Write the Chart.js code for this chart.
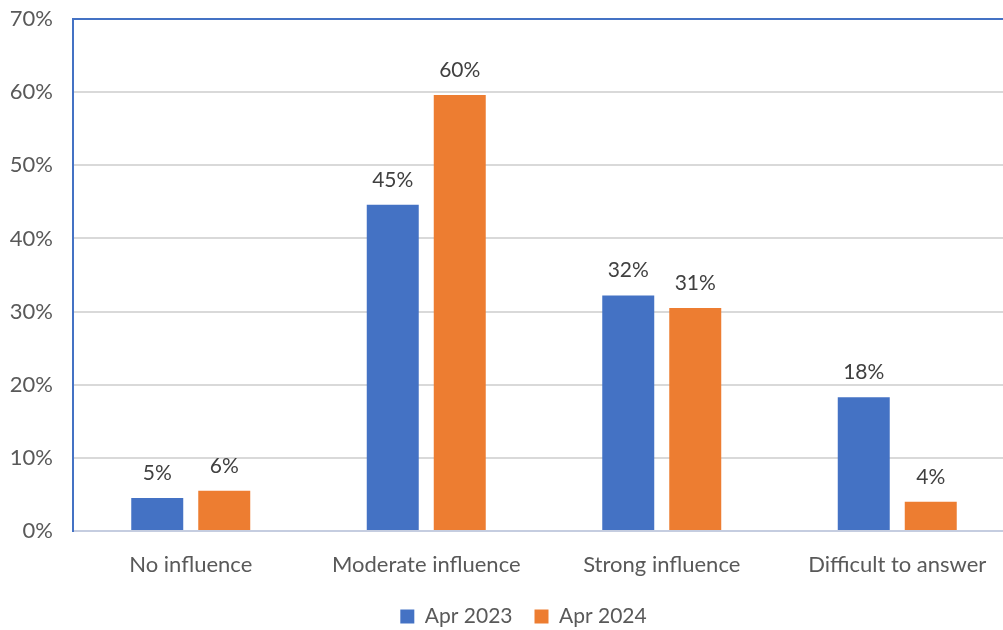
<!DOCTYPE html>
<html>
<head>
<meta charset="utf-8">
<script src="https://cdn.jsdelivr.net/npm/chart.js@4/dist/chart.umd.min.js"></script>
<style>
  html, body { margin: 0; padding: 0; background: #ffffff; }
  #wrap { width: 1003px; height: 630px; overflow: hidden; }
  #c { display: block; }
</style>
</head>
<body>
<div id="wrap"><canvas id="c" width="1015" height="630"></canvas></div>
<script>
const categories = ['No influence', 'Moderate influence', 'Strong influence', 'Difficult to answer'];
const seriesNames = ['Apr 2023', 'Apr 2024'];
const apr2023 = [4.5, 44.6, 32.2, 18.3];
const apr2024 = [5.5, 59.6, 30.5, 4.0];
const yTicks = [0, 10, 20, 30, 40, 50, 60, 70];

const BLUE = '#4472c4';
const ORANGE = '#ed7d31';
const FONT = 'Lato, "Open Sans", sans-serif';

// Writes the rounded percentage above each bar
const barValueLabels = {
  id: 'barValueLabels',
  afterDatasetsDraw(chart) {
    const ctx = chart.ctx;
    ctx.save();
    ctx.font = '21px ' + FONT;
    ctx.fillStyle = '#404040';
    ctx.textAlign = 'center';
    ctx.textBaseline = 'middle';
    chart.data.datasets.forEach((ds, di) => {
      const meta = chart.getDatasetMeta(di);
      meta.data.forEach((bar, i) => {
        ctx.fillText(Math.round(ds.data[i]) + '%', bar.x, bar.y - 25);
      });
    });
    ctx.restore();
  }
};

// Centres the legend row under the plot rather than under the whole canvas
const legendUnderPlot = {
  id: 'legendUnderPlot',
  afterLayout(chart) {
    if (chart.legend) chart.legend.left = 32;
  }
};

new Chart(document.getElementById('c'), {
  type: 'bar',
  data: {
    labels: categories,
    datasets: [
      { label: seriesNames[0], data: apr2023, backgroundColor: BLUE },
      { label: seriesNames[1], data: apr2024, backgroundColor: ORANGE }
    ]
  },
  options: {
    responsive: false,
    animation: false,
    devicePixelRatio: 1,
    layout: { padding: { top: 19, right: 0, left: 0, bottom: -7 } },
    datasets: { bar: { categoryPercentage: 0.569, barPercentage: 0.776 } },
    scales: {
      x: {
        grid: { display: false, drawTicks: false },
        border: { display: true, color: '#c5cde0', width: 2 },
        ticks: { color: '#595959', font: { family: FONT, size: 22 }, padding: 21 },
        afterFit(scale) { scale.height = 53; }
      },
      y: {
        min: 0,
        max: 70,
        afterBuildTicks(scale) { scale.ticks = yTicks.map(v => ({ value: v })); },
        grid: {
          drawTicks: false,
          lineWidth: 2,
          color: (c) => c.tick && c.tick.value === 70 ? BLUE : (c.tick && c.tick.value === 0 ? 'rgba(0,0,0,0)' : '#d9d9d9')
        },
        border: { display: true, color: BLUE, width: 2 },
        ticks: {
          color: '#595959',
          font: { family: FONT, size: 22 },
          padding: 20,
          callback: (v) => v + '%'
        },
        afterFit(scale) {
          scale.width = 73;
          scale.paddingTop = 0;
          scale.paddingBottom = 0;
        }
      }
    },
    plugins: {
      legend: {
        position: 'bottom',
        labels: {
          color: '#595959',
          font: { family: FONT, size: 21 },
          boxWidth: 14,
          boxHeight: 14,
          padding: 22
        }
      },
      tooltip: { enabled: false }
    }
  },
  plugins: [barValueLabels, legendUnderPlot]
});
</script>
</body>
</html>
